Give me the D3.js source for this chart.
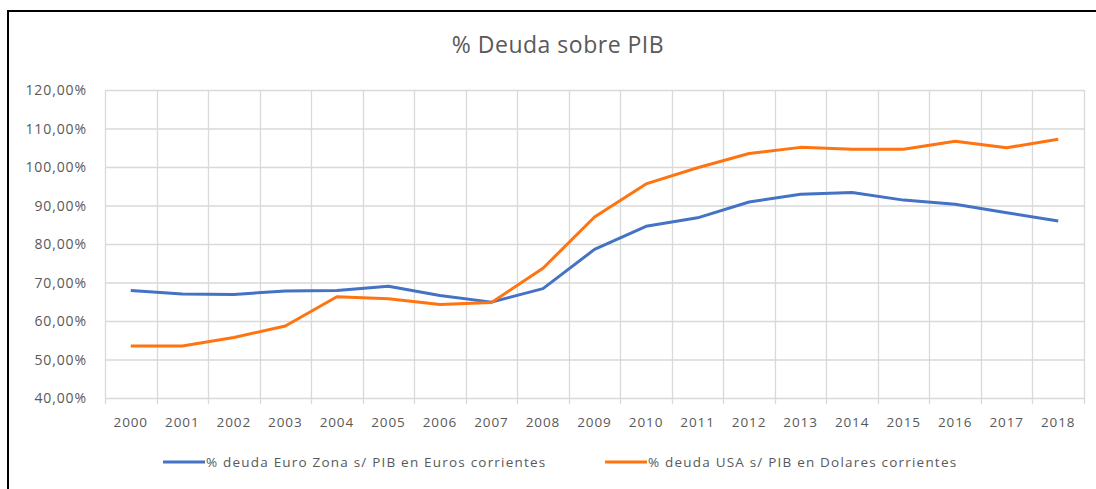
<!DOCTYPE html>
<html>
<head>
<meta charset="utf-8">
<script src="https://cdn.jsdelivr.net/npm/d3@7"></script>
<style>
    body { margin: 0; background: #fff; }
    svg text { font-family: "Open Sans", "Noto Sans", sans-serif; fill: #595959; }
</style>
</head>
<body>
<div id="chart"></div>
<script>
const years = ["2000", "2001", "2002", "2003", "2004", "2005", "2006", "2007", "2008", "2009",
    "2010", "2011", "2012", "2013", "2014", "2015", "2016", "2017", "2018"];
const euroZona = [67.9, 67.0, 66.9, 67.8, 67.9, 69.0, 66.6, 64.9, 68.4, 78.6,
    84.6, 86.8, 90.9, 92.9, 93.4, 91.4, 90.3, 88.1, 86.0];
const usa = [53.5, 53.5, 55.7, 58.7, 66.3, 65.8, 64.3, 64.8, 73.7, 87.0,
    95.6, 99.8, 103.5, 105.1, 104.6, 104.6, 106.7, 105.0, 107.2];
const yTicks = [40, 50, 60, 70, 80, 90, 100, 110, 120];
const seriesNames = ["% deuda Euro Zona s/ PIB en Euros corrientes", "% deuda USA s/ PIB en Dolares corrientes"];
const colors = ["#4472C4", "#FF7410"];

const width = 1096;
const height = 489;
const margin = { top: 90, right: 12, bottom: 91, left: 105 };

const svg = d3.select("#chart")
    .append("svg")
    .attr("width", width)
    .attr("height", height);

// marco negro (solo arriba e izquierda)
svg.append("line").attr("x1", 7).attr("x2", width).attr("y1", 11).attr("y2", 11)
    .style("stroke", "#000").style("stroke-width", 2);
svg.append("line").attr("x1", 8).attr("x2", 8).attr("y1", 11).attr("y2", height)
    .style("stroke", "#000").style("stroke-width", 2);

const x = d3.scaleBand()
    .domain(years)
    .range([margin.left, width - margin.right]);

const y = d3.scaleLinear()
    .domain([40, 120])
    .range([height - margin.bottom, margin.top]);

// titulo
svg.append("text")
    .attr("x", 558)
    .attr("y", 53)
    .attr("text-anchor", "middle")
    .style("font-size", "23px")
    .style("letter-spacing", "0.5px")
    .text("% Deuda sobre PIB");

// lineas horizontales
svg.append("g")
    .selectAll("line")
    .data(yTicks)
    .enter()
    .append("line")
    .attr("x1", margin.left)
    .attr("x2", width - margin.right)
    .attr("y1", (d) => y(d) + 0.5)
    .attr("y2", (d) => y(d) + 0.5)
    .style("stroke", "#d9d9d9")
    .style("stroke-width", 1.3);

// lineas verticales (limites de categoria) con marcas bajo el eje
const bounds = years.map((d) => x(d)).concat([x(years[years.length - 1]) + x.bandwidth()]);
svg.append("g")
    .selectAll("line")
    .data(bounds)
    .enter()
    .append("line")
    .attr("x1", (d) => Math.round(d) + 0.5)
    .attr("x2", (d) => Math.round(d) + 0.5)
    .attr("y1", margin.top)
    .attr("y2", height - margin.bottom + 6)
    .style("stroke", "#d9d9d9")
    .style("stroke-width", 1.3);

// etiquetas eje y
svg.append("g")
    .selectAll("text")
    .data(yTicks)
    .enter()
    .append("text")
    .attr("x", 87)
    .attr("y", (d) => y(d) + 5)
    .attr("text-anchor", "end")
    .style("font-size", "14px")
    .style("letter-spacing", "0.9px")
    .text((d) => d3.format(".2f")(d).replace(".", ",") + "%");

// etiquetas eje x
svg.append("g")
    .selectAll("text")
    .data(years)
    .enter()
    .append("text")
    .attr("x", (d) => x(d) + x.bandwidth() / 2)
    .attr("y", 427)
    .attr("text-anchor", "middle")
    .style("font-size", "13.5px")
    .style("letter-spacing", "0.9px")
    .text((d) => d);

const line = d3.line()
    .x((d, i) => x(years[i]) + x.bandwidth() / 2)
    .y((d) => y(d));

[euroZona, usa].forEach((series, i) => {
    svg.append("path")
        .datum(series)
        .attr("d", line)
        .style("fill", "none")
        .style("stroke", colors[i])
        .style("stroke-width", 3)
        .style("stroke-linejoin", "round");
});

// leyenda
const legendX = [163, 605];
seriesNames.forEach((name, i) => {
    svg.append("line")
        .attr("x1", legendX[i])
        .attr("x2", legendX[i] + 42)
        .attr("y1", 462)
        .attr("y2", 462)
        .style("stroke", colors[i])
        .style("stroke-width", 3);
    svg.append("text")
        .attr("x", legendX[i] + 43)
        .attr("y", 467)
        .style("font-size", "13.5px")
        .style("letter-spacing", "1.2px")
        .text(name);
});
</script>
</body>
</html>
